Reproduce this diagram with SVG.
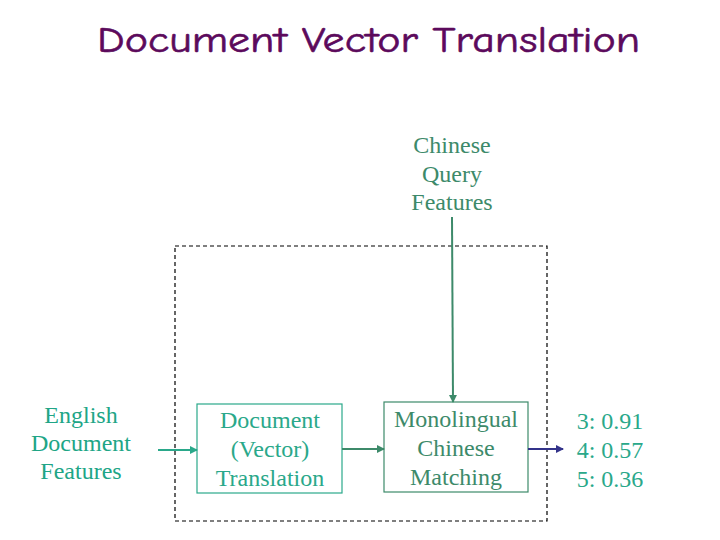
<svg xmlns="http://www.w3.org/2000/svg" width="720" height="540" viewBox="0 0 720 540">
<style>
.t{font-family:"Liberation Serif","Times New Roman",serif;font-size:24px;text-anchor:middle}
.title{font-family:"Comic Sans MS","Comic Neue","DejaVu Sans",sans-serif;font-size:37px;fill:#5c0a5c;stroke:#5c0a5c;stroke-width:0.6}
</style>
<defs>
<marker id="ag" markerWidth="8" markerHeight="8" refX="7" refY="4" orient="auto" markerUnits="userSpaceOnUse"><path d="M0,0 L8,4 L0,8 Z" fill="#2aa88a"/></marker>
<marker id="ad" markerWidth="8" markerHeight="8" refX="7" refY="4" orient="auto" markerUnits="userSpaceOnUse"><path d="M0,0 L8,4 L0,8 Z" fill="#3d8a6a"/></marker>
<marker id="an" markerWidth="8" markerHeight="8" refX="7" refY="4" orient="auto" markerUnits="userSpaceOnUse"><path d="M0,0 L8,4 L0,8 Z" fill="#33338a"/></marker>
</defs>
<rect width="720" height="540" fill="#fff"/>
<text class="title" x="97" y="52" textLength="543" lengthAdjust="spacingAndGlyphs">Document Vector Translation</text>
<rect x="175" y="246" width="372" height="275" fill="none" stroke="#000" stroke-width="1.2" stroke-dasharray="4,3"/>
<g id="english" fill="#20a586">
<text class="t" x="81" y="423">English</text>
<text class="t" x="81" y="451">Document</text>
<text class="t" x="81" y="479">Features</text>
</g>
<g id="query" fill="#3d8a6a">
<text class="t" x="452" y="153">Chinese</text>
<text class="t" x="452" y="182">Query</text>
<text class="t" x="452" y="210">Features</text>
</g>
<g id="doctrans">
<rect x="197" y="404" width="145" height="89" fill="#fff" stroke="#2aa88a" stroke-width="1.2"/>
<g fill="#2aa88a">
<text class="t" x="270" y="428">Document</text>
<text class="t" x="270" y="457">(Vector)</text>
<text class="t" x="270" y="486">Translation</text>
</g>
</g>
<g id="mono">
<rect x="384" y="402" width="144" height="90" fill="#fff" stroke="#3d8a6a" stroke-width="1.2"/>
<g fill="#3d8a6a">
<text class="t" x="456" y="427">Monolingual</text>
<text class="t" x="456" y="456">Chinese</text>
<text class="t" x="456" y="485">Matching</text>
</g>
</g>
<g id="scores" fill="#2aa88a">
<text class="t" x="610" y="429">3: 0.91</text>
<text class="t" x="610" y="458">4: 0.57</text>
<text class="t" x="610" y="487">5: 0.36</text>
</g>
<g id="connectors" stroke-width="2" fill="none">
<line x1="158" y1="450" x2="197" y2="450" stroke="#2aa88a" marker-end="url(#ag)"/>
<line x1="342" y1="449" x2="384" y2="449" stroke="#3d8a6a" marker-end="url(#ad)"/>
<line x1="452" y1="217" x2="453" y2="402" stroke="#3d8a6a" marker-end="url(#ad)"/>
<line x1="528" y1="449" x2="563" y2="449" stroke="#33338a" marker-end="url(#an)"/>
</g>
</svg>
